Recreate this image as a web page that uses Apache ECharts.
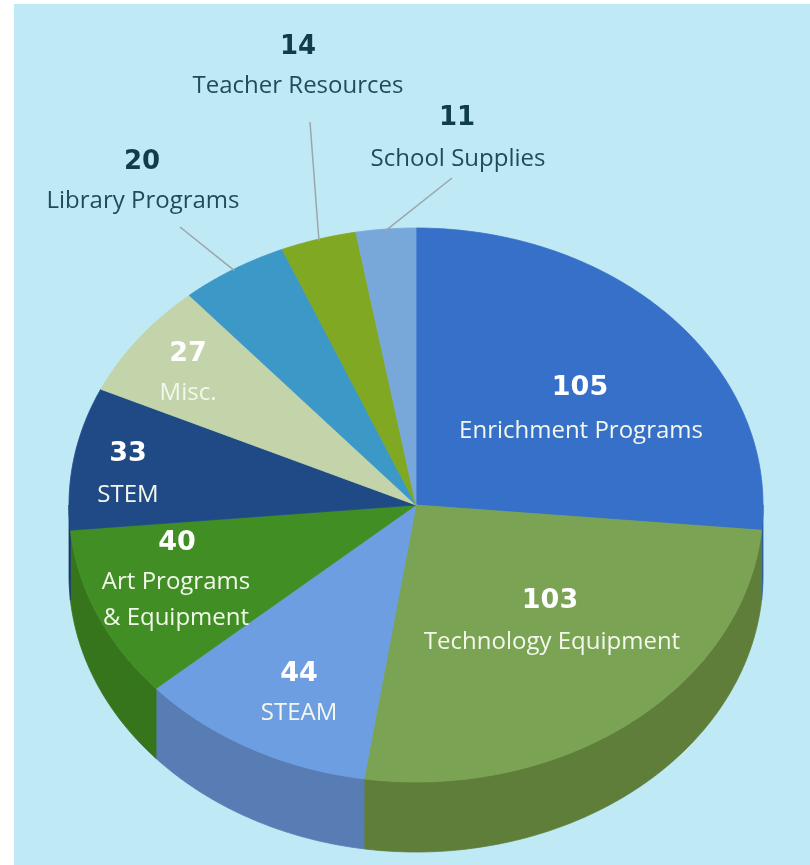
<!DOCTYPE html>
<html>
<head>
<meta charset="utf-8">
<script src="https://cdn.jsdelivr.net/npm/echarts@6/dist/echarts.min.js"></script>
<style>
  html, body { margin: 0; padding: 0; background: #ffffff; }
  #chart { width: 810px; height: 865px; }
</style>
</head>
<body>
<div id="chart"></div>
<script>
// ---- data ----
const categories = [
  'Enrichment Programs', 'Technology Equipment', 'STEAM',
  'Art Programs\n& Equipment', 'STEM', 'Misc.',
  'Library Programs', 'Teacher Resources', 'School Supplies'
];
const values = [105, 103, 44, 40, 33, 27, 20, 14, 11];

// ---- styles ----
const topColors  = ['#3770c8', '#7aa354', '#6c9ee1', '#418f24', '#204a86', '#c3d4aa', '#3b98c7', '#80a822', '#78a8da'];
const sideColors = ['#2c5ca8', '#5e7e3a', '#587db4', '#36751c', '#183b6c', '#9fb088', '#2f7ca3', '#66871b', '#5f88b3'];

// label layout (pixel anchors for the number; name sits below)
const labelLayout = [
  { num: [580, 388], name: [581, 431], inside: true },
  { num: [550, 601], name: [552, 642], inside: true },
  { num: [299, 674], name: [299, 713], inside: true },
  { num: [177, 543], name: [176, 600], inside: true },
  { num: [128, 454], name: [128, 495], inside: true },
  { num: [188, 354], name: [188, 393], inside: true },
  { num: [142, 162], name: [143, 201], inside: false, lineEnd: [180, 227] },
  { num: [298, 47],  name: [298, 86],  inside: false, lineEnd: [310, 122] },
  { num: [457, 118], name: [458, 159], inside: false, lineEnd: [452, 178] }
];

// pie geometry (tilted ellipse)
const CX = 416, CY = 505, RX = 347, RY = 277, DEPTH = 70;

const total = values.reduce((a, b) => a + b, 0);
const starts = [];
let acc = 0;
values.forEach(v => { starts.push(acc / total * 360); acc += v; });

function pt(deg, f, dy) {
  const r = deg * Math.PI / 180;
  return [CX + RX * f * Math.sin(r), CY - RY * f * Math.cos(r) + (dy || 0)];
}
function arc(a1, a2, dy) {
  const n = Math.max(2, Math.ceil((a2 - a1) / 0.5));
  const out = [];
  for (let k = 0; k <= n; k++) out.push(pt(a1 + (a2 - a1) * k / n, 1, dy));
  return out;
}

const chart = echarts.init(document.getElementById('chart'), null, { renderer: 'canvas' });

chart.setOption({
  animation: false,
  backgroundColor: '#ffffff',
  graphic: [{
    type: 'rect', z: -10, silent: true,
    shape: { x: 14, y: 4, width: 796, height: 861 },
    style: { fill: '#c0e9f6' }
  }],
  series: [{
    type: 'custom',
    coordinateSystem: 'none',
    data: values,
    renderItem: function (params, api) {
      const i = params.dataIndex;
      const v = api.value(0);
      const a1 = starts[i];
      const a2 = a1 + v / total * 360;
      const children = [];

      // side wall (front-facing part only)
      const b1 = Math.max(a1, 90), b2 = Math.min(a2, 270);
      if (b2 > b1) {
        const topArc = arc(b1, b2, 0);
        const botArc = arc(b1, b2, DEPTH).reverse();
        children.push({
          type: 'polygon', z2: 1,
          shape: { points: topArc.concat(botArc) },
          style: { fill: sideColors[i], stroke: sideColors[i], lineWidth: 0.8 }
        });
      }

      // top face
      children.push({
        type: 'polygon', z2: 10,
        shape: { points: [[CX, CY]].concat(arc(a1, a2, 0)) },
        style: { fill: topColors[i], stroke: topColors[i], lineWidth: 0.8 }
      });

      // labels
      const L = labelLayout[i];
      const numColor = L.inside ? '#ffffff' : '#0f3d48';
      const nameColor = L.inside ? '#f3f8ec' : '#1f4c58';
      if (!L.inside) {
        const mid = (a1 + a2) / 2;
        const s = pt(mid, 0.995, 0);
        children.push({
          type: 'line', z2: 50,
          shape: { x1: s[0], y1: s[1], x2: L.lineEnd[0], y2: L.lineEnd[1] },
          style: { stroke: '#9aa7aa', lineWidth: 1.5 }
        });
      }
      children.push({
        type: 'text', z2: 100,
        style: {
          text: String(v), x: L.num[0], y: L.num[1],
          fill: numColor,
          fontFamily: 'DejaVu Sans', fontWeight: 'bold', fontSize: L.inside ? 27 : 26,
          align: 'center', verticalAlign: 'middle',
          textAlign: 'center', textVerticalAlign: 'middle'
        }
      });
      children.push({
        type: 'text', z2: 100,
        style: {
          text: categories[i], x: L.name[0], y: L.name[1],
          fill: nameColor,
          fontFamily: 'Open Sans', fontWeight: 'normal', fontSize: 24,
          lineHeight: 36,
          align: 'center', verticalAlign: 'middle',
          textAlign: 'center', textVerticalAlign: 'middle'
        }
      });

      return { type: 'group', children: children };
    }
  }]
});
</script>
</body>
</html>
